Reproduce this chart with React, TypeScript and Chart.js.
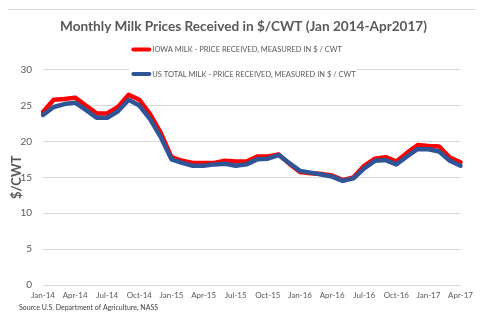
import React, { useEffect, useRef } from 'react';
import { Chart, registerables } from 'chart.js';

Chart.register(...registerables);

const months = [
  'Jan-14', 'Feb-14', 'Mar-14', 'Apr-14', 'May-14', 'Jun-14', 'Jul-14', 'Aug-14', 'Sep-14', 'Oct-14', 'Nov-14', 'Dec-14',
  'Jan-15', 'Feb-15', 'Mar-15', 'Apr-15', 'May-15', 'Jun-15', 'Jul-15', 'Aug-15', 'Sep-15', 'Oct-15', 'Nov-15', 'Dec-15',
  'Jan-16', 'Feb-16', 'Mar-16', 'Apr-16', 'May-16', 'Jun-16', 'Jul-16', 'Aug-16', 'Sep-16', 'Oct-16', 'Nov-16', 'Dec-16',
  'Jan-17', 'Feb-17', 'Mar-17', 'Apr-17',
];

const iowaMilk = [
  24.1, 25.8, 25.9, 26.1, 25.0, 23.9, 23.9, 24.8, 26.5, 25.8, 23.8, 21.2,
  17.8, 17.3, 17.0, 17.0, 17.0, 17.3, 17.2, 17.2, 17.9, 17.9, 18.2, 16.9,
  15.75, 15.55, 15.45, 15.25, 14.6, 15.0, 16.6, 17.6, 17.8, 17.2, 18.4, 19.5,
  19.35, 19.3, 17.75, 17.1,
];

const usMilk = [
  23.7, 24.8, 25.2, 25.4, 24.4, 23.3, 23.3, 24.2, 25.8, 25.0, 23.1, 20.6,
  17.5, 17.0, 16.6, 16.6, 16.8, 16.9, 16.6, 16.8, 17.5, 17.6, 18.1, 17.0,
  15.9, 15.65, 15.4, 15.1, 14.5, 14.85, 16.25, 17.3, 17.4, 16.8, 17.9, 18.95,
  18.9, 18.6, 17.3, 16.6,
];

const seriesNames = [
  'IOWA MILK - PRICE RECEIVED, MEASURED IN $ / CWT',
  'US TOTAL MILK - PRICE RECEIVED, MEASURED IN $ / CWT',
];
const seriesColors = ['#FF0000', '#2F5597'];

const chartTitle = 'Monthly Milk Prices Received in $/CWT (Jan 2014-Apr2017)';
const yAxisTitle = '$/CWT';
const sourceNote = 'Source U.S. Department of Agriculture, NASS';

const FONT = 'Lato, "Open Sans", sans-serif';
const GREY = '#595959';
const GRID = '#D9D9D9';

const overlayPlugin = {
  id: 'overlayLegend',
  afterDraw(chart: any) {
    const { ctx, chartArea } = chart;
    ctx.save();
    ctx.font = `7.5px ${FONT}`;
    ctx.textBaseline = 'middle';
    ctx.textAlign = 'left';
    const items = chart.data.datasets.map((d: any) => ({ text: d.label, color: d.borderColor }));
    const sample = 20;
    const widths = items.map((it: any) => sample + 1 + ctx.measureText(it.text).width);
    const blockW = Math.max(...widths);
    const tb = chart.titleBlock;
    const cx = (tb.left + tb.right) / 2;
    const x0 = cx - blockW / 2;
    items.forEach((it: any, i: number) => {
      const y = chartArea.top - 20 + i * 24.5;
      ctx.fillStyle = '#FFFFFF';
      ctx.fillRect(x0 - 2, y - 6, widths[i] + 4, 12);
      ctx.strokeStyle = it.color;
      ctx.lineWidth = 4;
      ctx.lineCap = 'round';
      ctx.beginPath();
      ctx.moveTo(x0 + 2, y);
      ctx.lineTo(x0 + sample - 2, y);
      ctx.stroke();
      ctx.fillStyle = GREY;
      ctx.fillText(it.text, x0 + sample + 1, y);
    });
    ctx.font = `7px ${FONT}`;
    ctx.fillStyle = '#404040';
    ctx.fillText(sourceNote, 11, chart.height - 6);
    ctx.restore();
  },
};

export default function App() {
  const ref = useRef<HTMLCanvasElement | null>(null);

  useEffect(() => {
    if (!ref.current) return;
    const chart = new Chart(ref.current, {
      type: 'line',
      data: {
        labels: months,
        datasets: [
          {
            label: seriesNames[0],
            data: iowaMilk,
            borderColor: seriesColors[0],
            backgroundColor: seriesColors[0],
            borderWidth: 4.5,
            pointRadius: 0,
            borderJoinStyle: 'round',
            borderCapStyle: 'round',
            tension: 0,
            order: 2,
          },
          {
            label: seriesNames[1],
            data: usMilk,
            borderColor: seriesColors[1],
            backgroundColor: seriesColors[1],
            borderWidth: 4.5,
            pointRadius: 0,
            borderJoinStyle: 'round',
            borderCapStyle: 'round',
            tension: 0,
            order: 1,
          },
        ],
      },
      options: {
        responsive: false,
        animation: false,
        events: [],
        layout: { padding: { left: 0, right: 0, top: 0, bottom: 12 } },
        plugins: {
          legend: { display: false },
          tooltip: { enabled: false },
          title: {
            display: true,
            text: chartTitle,
            color: GREY,
            font: { family: FONT, size: 13.6, weight: 'bold' },
            padding: { top: 8.5, bottom: 34.8 },
          },
        },
        scales: {
          x: {
            type: 'category',
            offset: false,
            grid: { display: false, drawTicks: false },
            border: { display: true, color: GRID },
            ticks: {
              autoSkip: false,
              maxRotation: 0,
              minRotation: 0,
              padding: 6,
              color: GREY,
              font: { family: FONT, size: 8 },
              callback: (_v: any, i: number) => (i % 3 === 0 ? months[i] : ''),
            },
            afterFit: (s: any) => {
              s.height = 17;
            },
          },
          y: {
            position: 'left',
            min: 0,
            max: 30,
            ticks: {
              stepSize: 5,
              padding: 11,
              color: GREY,
              font: { family: FONT, size: 10 },
            },
            grid: { color: GRID, drawTicks: false, lineWidth: 1 },
            border: { display: false },
            title: {
              display: true,
              text: yAxisTitle,
              color: GREY,
              font: { family: FONT, size: 13, weight: 'bold' },
              padding: { top: 1, bottom: 0 },
            },
            afterFit: (s: any) => {
              s.width = 35;
            },
          },
          yRight: {
            position: 'right',
            display: true,
            grid: { display: false, drawTicks: false },
            border: { display: false },
            ticks: { display: false },
            afterFit: (s: any) => {
              s.width = 18;
            },
          },
        },
      },
      plugins: [overlayPlugin],
    });
    return () => chart.destroy();
  }, []);

  return (
    <div
      style={{
        position: 'relative',
        left: -1,
        top: 1,
        width: 473,
        height: 306,
        border: `1px solid ${GRID}`,
        boxSizing: 'border-box',
        background: '#fff',
      }}
    >
      <canvas ref={ref} width={471} height={304} style={{ display: 'block' }} />
    </div>
  );
}
